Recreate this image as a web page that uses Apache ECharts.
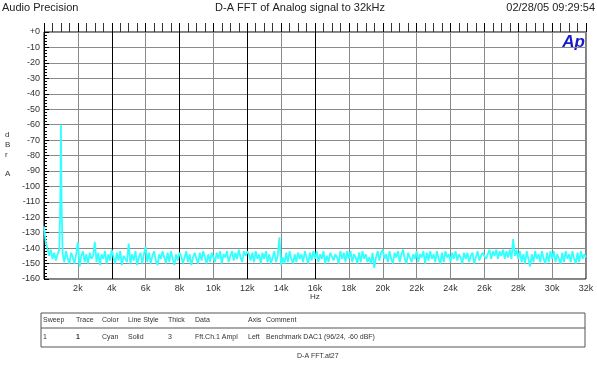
<!DOCTYPE html>
<html><head><meta charset="utf-8">
<script src="https://cdn.jsdelivr.net/npm/echarts@6/dist/echarts.min.js"></script>
<style>html,body{margin:0;padding:0;background:#fff}#c{width:597px;height:365px}</style>
</head><body><div id="c"></div>
<script>
// ---- data ----
var stepHz = 100; // FFT display grid (Hz)
var levelsDb = [
 -126,-136,-140,-145,-141,-147,-143,-148,-144,-141,
 -60,-144,-149,-142,-147,-150,-143,-146,-150,-144,
 -136,-152,-145,-142,-149,-144,-150,-143,-147,-145,
 -136,-149,-143,-151,-144,-147,-142,-150,-144,-148,
 -141,-146,-150,-143,-148,-142,-151,-145,-147,-149,
 -137,-150,-144,-148,-142,-151,-146,-143,-150,-144,
 -139,-149,-143,-150,-145,-142,-148,-151,-144,-147,
 -142,-146,-150,-143,-149,-142,-147,-151,-144,-148,
 -143,-145,-150,-146,-142,-149,-144,-151,-146,-143,
 -147,-150,-143,-148,-142,-146,-150,-144,-149,-143,
 -144,-149,-143,-147,-142,-150,-144,-146,-142,-149,
 -145,-142,-148,-143,-147,-141,-146,-149,-142,-145,
 -142,-144,-148,-143,-149,-142,-147,-144,-150,-143,
 -147,-142,-149,-144,-150,-146,-142,-149,-145,-133,
 -151,-146,-150,-143,-149,-142,-147,-150,-144,-149,
 -143,-147,-144,-149,-142,-146,-150,-143,-148,-142,
 -147,-142,-149,-144,-147,-142,-150,-145,-149,-143,
 -142,-148,-144,-146,-150,-142,-147,-143,-149,-142,
 -147,-142,-149,-144,-146,-150,-143,-149,-142,-147,
 -144,-149,-146,-150,-143,-153,-146,-142,-148,-143,
 -141,-147,-144,-149,-142,-147,-150,-143,-146,-142,
 -149,-144,-141,-147,-150,-143,-142,-149,-144,-147,
 -142,-149,-144,-146,-142,-150,-143,-148,-142,-147,
 -144,-149,-142,-147,-150,-143,-149,-142,-146,-144,
 -149,-143,-147,-142,-148,-144,-146,-150,-143,-147,
 -143,-149,-145,-143,-150,-146,-142,-148,-145,-143,
 -142,-147,-144,-141,-147,-142,-145,-141,-147,-142,
 -145,-141,-147,-142,-146,-141,-147,-134,-145,-141,
 -147,-142,-149,-144,-150,-142,-147,-152,-144,-149,
 -142,-147,-144,-149,-142,-147,-150,-143,-149,-142,
 -147,-142,-149,-144,-147,-150,-143,-149,-142,-147,
 -144,-149,-142,-147,-150,-143,-149,-142,-147,-144,
 -146
];
var peakHz = [950, 975, 1025, 1050];
var peakDb = [-118, -98, -98, -118];
var xTicksHz = [2000,4000,6000,8000,10000,12000,14000,16000,18000,20000,22000,24000,26000,28000,30000,32000];
var yTicksDb = [0,-10,-20,-30,-40,-50,-60,-70,-80,-90,-100,-110,-120,-130,-140,-150,-160];

// ---- build ----
var pts = levelsDb.map(function(v,i){return [i*stepHz, v];});
peakHz.forEach(function(f,i){pts.push([f, peakDb[i]]);});
pts.sort(function(a,b){return a[0]-b[0];});

var chart = echarts.init(document.getElementById('c'), null, {renderer:'canvas'});
var F = 'Arial, "Liberation Sans", sans-serif';
var TX = '#333';
var K = '#000', G = '#8a8a8a';
var vLineColors = [K,G,K,G,K,G,K,G,K,G,G,G,G,G,G,G,G];
var tableTop = 313, tableMid = 328, tableBot = 347, tL = 41, tR = 585;
function t(x,y,s,opt){opt=opt||{};return {type:'text',x:x,y:y,style:{text:s,fill:opt.fill||TX,font:(opt.font||'9px '+F),textAlign:opt.align||'left',textVerticalAlign:'middle'}};}
var cols = [[43,'Sweep','1'],[76,'Trace','1'],[102,'Color','Cyan'],[128,'Line Style','Solid'],[168,'Thick','3'],[195,'Data','Fft.Ch.1 Ampl'],[248,'Axis','Left'],[266,'Comment','Benchmark DAC1 (96/24, -60 dBF)']];
var g = [
  t(2,8,'Audio Precision',{font:'11px '+F,fill:'#222'}),
  t(300,8,'D-A FFT of Analog signal to 32kHz',{font:'11px '+F,fill:'#222',align:'center'}),
  t(595,8,'02/28/05 09:29:54',{font:'11px '+F,fill:'#222',align:'right'}),
  t(585,42,'Ap',{font:'italic bold 17px '+F,fill:'#1a1acc',align:'right'}),
  t(5,135,'d',{font:'8px '+F}), t(5,145,'B',{font:'8px '+F}), t(5,155,'r',{font:'8px '+F}), t(5,174,'A',{font:'8px '+F}),
  t(310,297,'Hz',{font:'8px '+F}),
  {type:'rect',shape:{x:tL,y:tableTop,width:tR-tL,height:tableBot-tableTop},style:{fill:'none',stroke:'#555',lineWidth:1}},
  {type:'line',shape:{x1:tL,y1:tableMid,x2:tR,y2:tableMid},style:{stroke:'#555',lineWidth:1}},
  t(297,356,'D-A FFT.at27',{font:'7px '+F})
];
cols.forEach(function(c){g.push(t(c[0],320.5,c[1],{font:'7px '+F}));g.push(t(c[0],337.5,c[2],{font:(c[1]==='Trace'?'bold ':'')+'7px '+F}));});

chart.setOption({
  animation:false,
  backgroundColor:'#fff',
  grid:{left:44,right:11,top:32,bottom:86,show:true,borderColor:'#000',borderWidth:1},
  xAxis:{type:'value',min:0,max:32000,interval:2000,
    axisLine:{show:false},
    axisTick:{show:true,inside:true,length:9,lineStyle:{color:'#000'}},
    minorTick:{show:true,splitNumber:4,length:9,lineStyle:{color:'#333'}},
    splitLine:{show:true,lineStyle:{color:vLineColors,width:1}},
    axisLabel:{color:TX,fontFamily:F,fontSize:9,margin:5,
      formatter:function(v){return xTicksHz.indexOf(v)>=0? (v/1000)+'k':'';}}
  },
  yAxis:{type:'value',min:-160,max:0,interval:10,
    axisLine:{show:false},
    axisTick:{show:true,inside:true,length:5,lineStyle:{color:'#000'}},
    minorTick:{show:true,splitNumber:5,length:3,lineStyle:{color:'#000'}},
    splitLine:{show:true,lineStyle:{color:'#8a8a8a',width:1}},
    axisLabel:{color:TX,fontFamily:F,fontSize:9,margin:4,
      formatter:function(v){return yTicksDb.indexOf(v)<0?'':(v===0?'+0':String(v));}}
  },
  series:[{type:'line',data:pts,showSymbol:false,symbol:'none',
    lineStyle:{color:'#33ffff',width:1.8},clip:true}],
  graphic:g
});
</script></body></html>
